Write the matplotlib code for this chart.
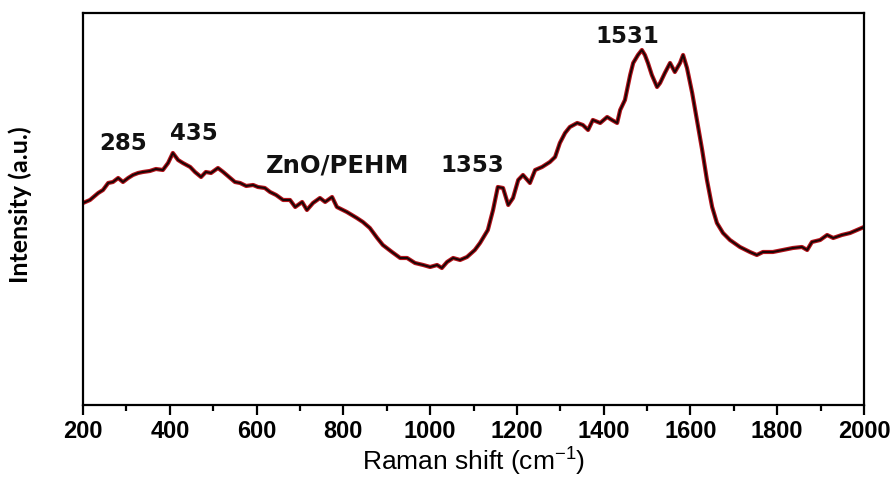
import numpy as np
import matplotlib.pyplot as plt
from matplotlib.ticker import MultipleLocator

plt.rcParams['mathtext.fontset'] = 'custom'
plt.rcParams['mathtext.rm'] = 'Liberation Sans'
plt.rcParams['mathtext.it'] = 'Liberation Sans:italic'
plt.rcParams['mathtext.default'] = 'regular'

# Raman spectrum (arbitrary intensity units)
shift = [200, 216, 235, 246, 258, 269, 281, 292, 304, 315, 327, 338, 354, 368, 384, 396,
         407, 419, 430, 447, 458, 472, 483, 495, 511, 523, 539, 550, 562, 576, 592, 603,
         619, 631, 645, 661, 677, 689, 705, 716, 730, 746, 758, 774, 785, 808, 831, 845,
         861, 878, 891, 912, 931, 947, 965, 984, 1000, 1016, 1027, 1039, 1053, 1069, 1085,
         1103, 1115, 1133, 1145, 1156, 1168, 1180, 1191, 1203, 1214, 1230, 1242, 1258,
         1276, 1288, 1299, 1311, 1322, 1339, 1352, 1364, 1375, 1392, 1408, 1419, 1431,
         1438, 1449, 1461, 1468, 1479, 1488, 1495, 1502, 1511, 1523, 1530, 1541, 1553,
         1564, 1576, 1583, 1592, 1604, 1615, 1627, 1638, 1650, 1661, 1675, 1691, 1714,
         1737, 1753, 1767, 1790, 1813, 1836, 1857, 1869, 1880, 1899, 1915, 1929, 1949,
         1968, 1984, 2000]
intensity = [202, 205, 212, 215, 222, 223, 227, 223, 227, 230, 232, 233, 234, 236, 235, 242,
             252, 245, 242, 238, 233, 228, 233, 232, 237, 233, 227, 223, 222, 219, 220, 218,
             217, 213, 210, 205, 205, 198, 203, 195, 202, 207, 203, 208, 198, 193, 187, 183,
             177, 167, 160, 153, 147, 147, 142, 140, 138, 140, 137, 143, 147, 145, 148,
             155, 162, 175, 195, 218, 217, 200, 207, 225, 230, 222, 235, 238,
             243, 248, 262, 272, 278, 282, 280, 275, 285, 282, 288, 285, 282,
             295, 305, 330, 342, 350, 355, 350, 342, 330, 318, 322, 332, 342,
             333, 342, 350, 337, 312, 285, 255, 225, 198, 182, 172, 165, 158,
             153, 150, 153, 153, 155, 157, 158, 155, 163, 165, 170, 167, 170,
             172, 175, 178]

labels = ['285', '435', 'ZnO/PEHM', '1353', '1531']
label_x = [292, 456, 787, 1098, 1454]
label_y = [255, 265, 232, 233, 362]

fig = plt.figure(figsize=(8.91, 4.79), dpi=100)
ax = fig.add_axes([0.0932, 0.1545, 0.8765, 0.8184])

# red halo under a black trace, like the original
ax.plot(shift, intensity, color='#b3121a', lw=3.0, solid_joinstyle='round')
ax.plot(shift, intensity, color='#1a0505', lw=1.4, solid_joinstyle='round')

for t, x, y in zip(labels, label_x, label_y):
    size = 17.5 if t == 'ZnO/PEHM' else 16.5
    ax.text(x, y, t, ha='center', va='baseline', fontsize=size, fontweight='bold',
            family='DejaVu Sans', color='#111111')

ax.set_xlim(200, 2000)
ax.set_ylim(0, 392)
ax.xaxis.set_major_locator(MultipleLocator(200))
ax.xaxis.set_minor_locator(MultipleLocator(100))
ax.set_yticks([])
ax.tick_params(axis='x', which='major', direction='out', length=7, width=1.6, pad=4)
ax.tick_params(axis='x', which='minor', direction='out', length=4, width=1.6)
for lab in ax.get_xticklabels():
    lab.set_family('Liberation Sans')
    lab.set_fontweight('bold')
    lab.set_fontsize(17)
for s in ax.spines.values():
    s.set_linewidth(1.6)

ax.set_xlabel('Raman shift (cm$^{-1}$)', fontsize=19, family='Liberation Sans', labelpad=2)
ax.set_ylabel('Intensity (a.u.)', fontsize=18, fontweight='bold', family='Lato')
ax.yaxis.set_label_coords(-0.065, 0.51)

fig.savefig('out.png', dpi=100)
